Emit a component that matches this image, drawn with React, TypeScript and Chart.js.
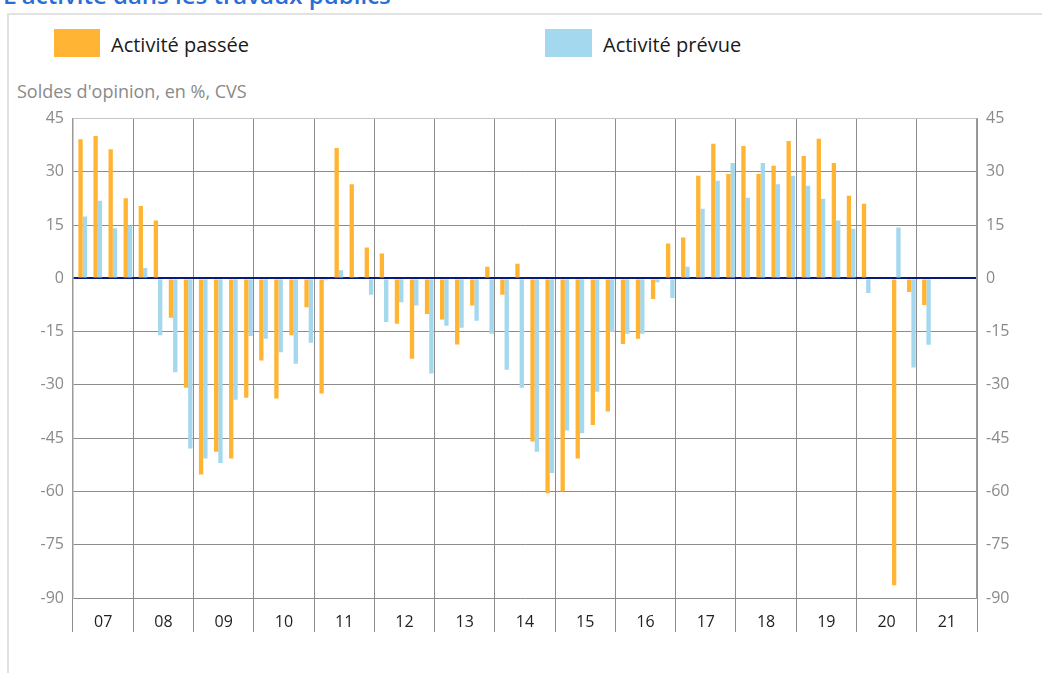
import React, { useEffect, useRef } from "react";
import { Chart, registerables } from "chart.js";

Chart.register(...registerables);

const yearLabels = ["07", "08", "09", "10", "11", "12", "13", "14", "15", "16", "17", "18", "19", "20", "21"];
const quarterNames = ["T1", "T2", "T3", "T4"];

// Soldes d'opinion (quarterly, 2007 T1 .. 2021 T4)
const activitePassee: (number | null)[] = [
  39.2, 40.1, 36.4, 22.6,
  20.4, 16.3, -11.1, -30.8,
  -55.2, -48.8, -50.7, -33.6,
  -23.1, -33.8, -16.0, -8.1,
  -32.4, 36.7, 26.5, 8.7,
  7.0, -12.8, -22.6, -10.0,
  -11.6, -18.6, -7.6, 3.3,
  -4.6, 4.1, -45.9, -60.5,
  -60.0, -50.7, -41.3, -37.5,
  -18.5, -17.0, -5.8, 9.8,
  11.5, 28.9, 37.9, 29.4,
  37.3, 29.4, 31.7, 38.7,
  34.5, 39.3, 32.5, 23.3,
  21.0, null, -86.4, -3.8,
  -7.5, null, null, null,
];

const activitePrevue: (number | null)[] = [
  17.4, 21.9, 14.1, 14.9,
  2.9, -16.0, -26.4, -47.9,
  -50.7, -52.0, -34.2, -16.2,
  -17.0, -20.8, -24.0, -18.1,
  -0.5, 2.3, 0.3, -4.6,
  -12.3, -6.7, -7.6, -26.8,
  -13.3, -13.9, -11.9, -15.6,
  -25.7, -30.8, -48.8, -54.8,
  -42.8, -43.6, -31.9, -15.1,
  -15.6, -15.6, -1.1, -5.5,
  3.3, 19.6, 27.5, 32.5,
  22.7, 32.5, 26.5, 28.9,
  26.1, 22.4, 16.3, 14.0,
  -4.1, null, 14.3, -25.1,
  -18.7, null, null, null,
];

const quarterLabels: string[] = [];
yearLabels.forEach((y) => quarterNames.forEach((q) => quarterLabels.push(q + " " + y)));

const ORANGE = "#FFB433";
const BLUE = "#A4D8EE";
const FONT = "'Open Sans', 'Noto Sans', sans-serif";

export default function App() {
  const canvasRef = useRef<HTMLCanvasElement | null>(null);

  useEffect(() => {
    if (!canvasRef.current) return;
    const yTicks = {
      stepSize: 15,
      color: "#8a8a8a",
      font: { family: FONT, size: 16 },
    };
    const chart = new Chart(canvasRef.current, {
      type: "bar",
      data: {
        labels: quarterLabels,
        datasets: [
          {
            label: "",
            data: quarterLabels.map(() => null),
            backgroundColor: "rgba(0,0,0,0)",
            xAxisID: "x",
            yAxisID: "y",
          },
          {
            label: "Activité passée",
            data: activitePassee,
            backgroundColor: ORANGE,
            xAxisID: "x",
            yAxisID: "y",
          },
          {
            label: "Activité prévue",
            data: activitePrevue,
            backgroundColor: BLUE,
            xAxisID: "x",
            yAxisID: "y",
          },
        ],
      },
      options: {
        animation: false,
        responsive: false,
        devicePixelRatio: 1,
        datasets: { bar: { categoryPercentage: 0.86, barPercentage: 1.0 } },
        layout: { padding: { top: 16, left: 0, right: 0, bottom: 0 } },
        plugins: {
          legend: { display: false },
          tooltip: { enabled: false },
        },
        scales: {
          x: {
            type: "category",
            display: false,
            offset: true,
            grid: { display: false },
          },
          years: {
            type: "category",
            labels: yearLabels,
            position: "bottom",
            display: true,
            offset: true,
            grid: {
              offset: true,
              color: "#8c8c8c",
              lineWidth: 1,
              tickLength: 34,
              drawTicks: true,
            },
            border: { display: false },
            ticks: {
              color: "#222222",
              font: { family: FONT, size: 16 },
              padding: -19,
              maxRotation: 0,
              autoSkip: false,
            },
            afterFit: (s: any) => {
              s.height = 62;
            },
          },
          y: {
            position: "left",
            min: -90,
            max: 45,
            ticks: { ...yTicks, padding: 9 },
            grid: {
              drawTicks: false,
              color: (ctx: any) =>
                ctx.tick && ctx.tick.value === 0
                  ? "#0a1a7a"
                  : ctx.tick && ctx.tick.value === 45
                  ? "#c4c4c4"
                  : "#8c8c8c",
              lineWidth: (ctx: any) => (ctx.tick && ctx.tick.value === 0 ? 2 : 1),
            },
            border: { display: true, color: "#9a9a9a", width: 1.5 },
            afterFit: (s: any) => {
              s.width = 73;
            },
          },
          y2: {
            position: "right",
            min: -90,
            max: 45,
            ticks: { ...yTicks, padding: 9 },
            grid: { display: false, drawTicks: false },
            border: { display: true, color: "#9a9a9a", width: 1.5 },
            afterFit: (s: any) => {
              s.width = 65;
            },
          },
        },
      },
    });
    return () => chart.destroy();
  }, []);

  return (
    <div
      style={{
        position: "fixed",
        left: 0,
        top: 0,
        width: 1042,
        height: 673,
        background: "#ffffff",
        overflow: "hidden",
        fontFamily: FONT,
      }}
    >
      <div
        style={{
          position: "absolute",
          left: 3,
          top: -19,
          fontSize: 24,
          lineHeight: "28px",
          fontWeight: 600,
          color: "#2b6dd6",
          whiteSpace: "nowrap",
        }}
      >
        L'activité dans les travaux publics
      </div>
      <div
        style={{
          position: "absolute",
          left: 7,
          top: 13,
          width: 1100,
          height: 700,
          borderTop: "2px solid #e2e2e2",
          borderLeft: "2px solid #e2e2e2",
          boxSizing: "border-box",
          background: "#ffffff",
        }}
      />
      <div style={{ position: "absolute", left: 54, top: 29, width: 46, height: 28, background: ORANGE }} />
      <div
        style={{
          position: "absolute",
          left: 111,
          top: 31,
          fontSize: 20,
          lineHeight: "28px",
          color: "#1a1a1a",
          whiteSpace: "nowrap",
        }}
      >
        Activité passée
      </div>
      <div style={{ position: "absolute", left: 545, top: 29, width: 47, height: 28, background: BLUE }} />
      <div
        style={{
          position: "absolute",
          left: 603,
          top: 31,
          fontSize: 20,
          lineHeight: "28px",
          color: "#1a1a1a",
          whiteSpace: "nowrap",
        }}
      >
        Activité prévue
      </div>
      <div
        style={{
          position: "absolute",
          left: 17,
          top: 79,
          fontSize: 18,
          lineHeight: "24px",
          color: "#8a8a8a",
          whiteSpace: "nowrap",
        }}
      >
        Soldes d'opinion, en %, CVS
      </div>
      <canvas
        ref={canvasRef}
        width={1042}
        height={560}
        style={{ position: "absolute", left: 0, top: 100, width: 1042, height: 560 }}
      />
    </div>
  );
}
